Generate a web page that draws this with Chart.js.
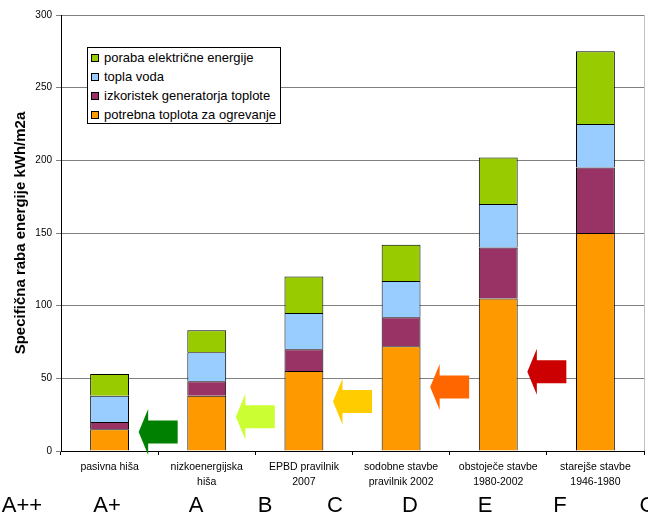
<!DOCTYPE html>
<html>
<head>
<meta charset="utf-8">
<script src="https://cdn.jsdelivr.net/npm/chart.js@4/dist/chart.umd.min.js"></script>
<style>
  body { margin: 0; background: #fff; }
  #wrap { position: relative; width: 648px; height: 516px; overflow: hidden; font-family: Arial, "Liberation Sans", sans-serif; }
  #legend { position: absolute; left: 87px; top: 47px; width: 192px; height: 75px; border: 1px solid #000; background: #fff; font-size: 13px; }
  #legend div { height: 19px; line-height: 19px; padding-left: 3px; white-space: nowrap; }
  #legend span { display: inline-block; width: 6px; height: 6px; border: 1px solid #000; margin-right: 5px; vertical-align: 0px; }
  .cls { position: absolute; top: 492px; font-size: 22px; transform: translateX(-50%); color: #000; }
</style>
</head>
<body>
<div id="wrap">
  <canvas id="chart" width="648" height="516"></canvas>
  <div id="legend"></div>
</div>
<script>
const categories = [
  'pasivna hiša',
  ['nizkoenergijska', 'hiša'],
  ['EPBD pravilnik', '2007'],
  ['sodobne stavbe', 'pravilnik 2002'],
  ['obstoječe stavbe', '1980-2002'],
  ['starejše stavbe', '1946-1980']
];

const ogrevanje = [15, 38, 55, 72, 105, 150];
const generator = [5, 10, 15, 20, 35, 45];
const toplaVoda = [18, 20, 25, 25, 30, 30];
const elektrika = [15, 15, 25, 25, 32, 50];

// arrow levels (kWh/m2a) between the bars
const arrowLevels = [13, 23.5, 34, 44, 54.5];
const arrowColors = ['#008000', '#ccff33', '#ffcc00', '#ff6600', '#cc0000'];

const classLetters = ['A++', 'A+', 'A', 'B', 'C', 'D', 'E', 'F', 'G'];
const classLetterX = [22, 107, 196, 265, 335, 410, 485, 560, 648];

const datasets = [
  { label: 'potrebna toplota za ogrevanje', data: ogrevanje, backgroundColor: '#ff9900' },
  { label: 'izkoristek generatorja toplote', data: generator, backgroundColor: '#993366' },
  { label: 'topla voda', data: toplaVoda, backgroundColor: '#99ccff' },
  { label: 'poraba električne energije', data: elektrika, backgroundColor: '#99cc00' }
].map(d => ({ ...d, borderColor: '#000', borderWidth: 1, barPercentage: 0.4, categoryPercentage: 1 }));

// legend (top item = last series)
const legend = document.getElementById('legend');
datasets.slice().reverse().forEach(d => {
  const row = document.createElement('div');
  row.innerHTML = '<span style="background:' + d.backgroundColor + '"></span>' + d.label;
  legend.appendChild(row);
});

const wrap = document.getElementById('wrap');
classLetters.forEach((t, i) => {
  const el = document.createElement('div');
  el.className = 'cls';
  el.style.left = classLetterX[i] + 'px';
  el.textContent = t;
  wrap.appendChild(el);
});

const arrowsPlugin = {
  id: 'arrows',
  afterDatasetsDraw(chart) {
    const ctx = chart.ctx;
    const x = chart.scales.x, y = chart.scales.y;
    const area = chart.chartArea;
    // right border of plot
    ctx.save();
    ctx.strokeStyle = '#c0c0c0';
    ctx.lineWidth = 1;
    ctx.beginPath();
    ctx.moveTo(area.right + 0.5, area.top);
    ctx.lineTo(area.right + 0.5, area.bottom);
    ctx.stroke();

    arrowLevels.forEach((v, i) => {
      const cx = (x.getPixelForValue(i) + x.getPixelForValue(i + 1)) / 2;
      const cy = y.getPixelForValue(v);
      ctx.fillStyle = arrowColors[i];
      ctx.beginPath();
      ctx.moveTo(cx - 19.5, cy);
      ctx.lineTo(cx - 10, cy - 23);
      ctx.lineTo(cx - 10, cy - 11.5);
      ctx.lineTo(cx + 19.5, cy - 11.5);
      ctx.lineTo(cx + 19.5, cy + 11.5);
      ctx.lineTo(cx - 10, cy + 11.5);
      ctx.lineTo(cx - 10, cy + 23);
      ctx.closePath();
      ctx.fill();
    });
    ctx.restore();
  }
};

new Chart(document.getElementById('chart'), {
  type: 'bar',
  data: { labels: categories, datasets: datasets },
  options: {
    responsive: false,
    animation: false,
    layout: { padding: { top: 15, right: 4, left: 0, bottom: 0 } },
    plugins: { legend: { display: false }, tooltip: { enabled: false } },
    scales: {
      x: {
        stacked: true,
        afterFit: s => { s.height = 65; },
        grid: { drawOnChartArea: false, offset: true, color: '#000', tickLength: 4 },
        border: { color: '#000' },
        ticks: {
          color: '#000',
          font: { family: 'Arial, "Liberation Sans"', size: 10.5, lineHeight: 1.4 },
          maxRotation: 0,
          autoSkip: false,
          padding: 5
        }
      },
      y: {
        stacked: true,
        min: 0,
        max: 300,
        afterFit: s => { s.width = 61; },
        grid: { color: '#808080', tickLength: 5 },
        border: { color: '#000' },
        ticks: {
          stepSize: 50,
          color: '#000',
          padding: 4,
          font: { family: 'Arial, "Liberation Sans"', size: 10 }
        },
        title: {
          display: true,
          text: 'Specifična raba energije kWh/m2a',
          color: '#000',
          font: { family: 'Arial, "Liberation Sans"', size: 15, weight: 'bold', lineHeight: 1.2 },
          padding: { top: 12, bottom: 0 }
        }
      }
    }
  },
  plugins: [arrowsPlugin]
});
</script>
</body>
</html>
